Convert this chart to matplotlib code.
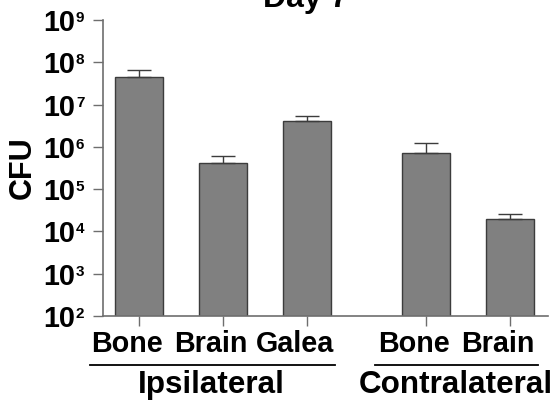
import matplotlib
matplotlib.use("Agg")
import matplotlib.pyplot as plt
import matplotlib.transforms as mtransforms
import numpy as np

plt.rcParams['font.family'] = ['Liberation Sans', 'DejaVu Sans']
plt.rcParams['font.weight'] = 'bold'

# data
tissues = ['Bone', 'Brain', 'Galea', 'Bone', 'Brain']
cfu = [4.5e7, 4.2e5, 4.1e6, 7.2e5, 2.0e4]
cfu_upper = [6.6e7, 6.1e5, 5.4e6, 1.24e6, 2.6e4]
groups = ['Ipsilateral', 'Contralateral']
group_members = [[0, 1, 2], [3, 4]]
exponents = list(range(2, 10))

x = np.array([0, 1, 2, 3.42, 4.42])
axis_grey = '#6e6e6e'

fig = plt.figure(figsize=(5.54, 4.0), dpi=100)
ax = fig.add_axes([0.186, 0.21, 0.803, 0.74])

err = [np.zeros(len(cfu)), np.array(cfu_upper) - np.array(cfu)]
ax.bar(x, cfu, width=0.57, color='#808080', edgecolor='#3c3c3c', linewidth=1.0, zorder=2)
ax.errorbar(x, cfu, yerr=err, fmt='none', ecolor='#3c3c3c', elinewidth=1.0,
            capsize=8.6, capthick=1.0, zorder=3)

ax.set_yscale('log')
ax.set_ylim(1e2, 1e9)
ax.set_xlim(-0.43, 4.87)

ax.spines['top'].set_visible(False)
ax.spines['right'].set_visible(False)
for s in ['left', 'bottom']:
    ax.spines[s].set_color(axis_grey)
    ax.spines[s].set_linewidth(1.2)

ax.yaxis.set_minor_locator(matplotlib.ticker.NullLocator())
ax.set_yticks([10.0 ** e for e in exponents])
ax.set_yticklabels(['10'] * len(exponents), fontsize=20.7, fontweight='bold')
ax.tick_params(axis='y', length=7.2, width=1.0, color=axis_grey, pad=13)

ax.set_xticks(x)
ax.set_xticklabels(tissues, fontsize=20.7, fontweight='bold')
ax.tick_params(axis='x', length=7.2, width=1.0, color=axis_grey, pad=3)

shift = mtransforms.ScaledTranslation(-12 / 100, 0, fig.dpi_scale_trans)
for lab in ax.get_xticklabels():
    lab.set_transform(lab.get_transform() + shift)

# superscript exponents for the y tick labels
for e in exponents:
    ax.annotate(str(e), xy=(0, 10.0 ** e), xycoords=('axes fraction', 'data'),
                xytext=(-19.5, 6.5), textcoords='offset points',
                ha='left', va='top', fontsize=11, fontweight='bold',
                annotation_clip=False)

# group underlines and labels
trans = mtransforms.blended_transform_factory(ax.transData, ax.transAxes)
pads = [(0.58, 0.33), (0.61, 0.33)]
for name, members, (pl, pr) in zip(groups, group_members, pads):
    x0 = x[members[0]] - pl
    x1 = x[members[-1]] + pr
    ax.plot([x0, x1], [-0.1655, -0.1655], transform=trans, color='black',
            linewidth=1.3, clip_on=False)
    ax.text(np.mean(x[members]), -0.183, name, transform=trans + shift,
            ha='center', va='top', fontsize=22.6, fontweight='bold')

fig.text(0.041, 0.582, 'CFU', rotation=90, ha='center', va='center',
         fontsize=22, fontweight='bold')
fig.text(0.551, 0.983, 'Day 7', ha='center', va='baseline',
         fontsize=23, fontweight='bold')

fig.savefig('out.png', dpi=100)
